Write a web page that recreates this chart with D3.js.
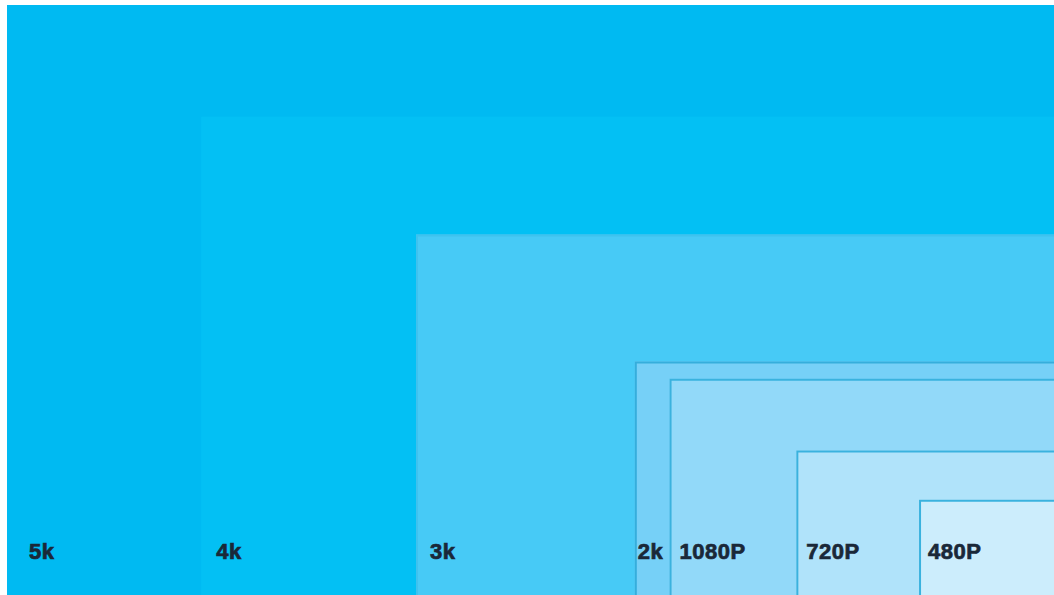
<!DOCTYPE html>
<html>
<head>
<meta charset="utf-8">
<script src="https://cdn.jsdelivr.net/npm/d3@7"></script>
<style>
  html, body { margin: 0; padding: 0; background: #ffffff; }
  svg { display: block; }
</style>
</head>
<body>
<svg id="chart" width="1054" height="595"></svg>
<script>
// Data (in resolution-like units)
const categories = ["5k", "4k", "3k", "2k", "1080P", "720P", "480P"];
const widths  = [5120, 4170, 3120, 2050, 1880, 1260, 660];
const heights = [2880, 2335, 1760, 1140, 1055, 705, 465];

// Styling
const fills   = ["#00baf2", "#03c0f4", "#47caf6", "#76d0f7", "#92d9f9", "#b0e3fa", "#ccedfc"];
const strokes = [null, null, "#3fc2ee", "#35aedc", "#3ab2de", "#3ab2de", "#3ab2de"];
const labelInset = [22, 15, 14, 3, 10, 10, 9];

const W = 1054, H = 595;
const padLeft = 7, padTop = 5;

const svg = d3.select("#chart");

// x: width measured leftward from the right edge; y: height measured upward from bottom
const x = d3.scaleLinear().domain([0, d3.max(widths)]).range([W, padLeft]);
const y = d3.scaleLinear().domain([0, d3.max(heights)]).range([H, padTop]);

const data = categories.map((c, i) => ({ c, w: widths[i], h: heights[i], i }));

const g = svg.append("g");

g.selectAll("rect.box")
  .data(data)
  .join("rect")
  .attr("class", "box")
  .attr("x", d => x(d.w))
  .attr("y", d => y(d.h))
  .attr("width", d => W - x(d.w))
  .attr("height", d => H - y(d.h))
  .attr("fill", d => fills[d.i]);

// darker top/left edges
g.selectAll("path.edge")
  .data(data.filter(d => strokes[d.i]))
  .join("path")
  .attr("class", "edge")
  .attr("d", d => `M${x(d.w) + 1},${H} V${y(d.h) + 1} H${W}`)
  .attr("fill", "none")
  .attr("stroke", d => strokes[d.i])
  .attr("stroke-width", 2);

g.selectAll("text.lbl")
  .data(data)
  .join("text")
  .attr("class", "lbl")
  .attr("x", d => x(d.w) + labelInset[d.i])
  .attr("y", 559)
  .attr("font-family", "'Liberation Sans', Arial, Helvetica, sans-serif")
  .attr("font-weight", "bold")
  .attr("font-size", 22)
  .attr("fill", "#1a2838")
  .attr("stroke", "#1a2838")
  .attr("stroke-width", 0.7)
  .attr("letter-spacing", 0.5)
  .text(d => d.c);
</script>
</body>
</html>
